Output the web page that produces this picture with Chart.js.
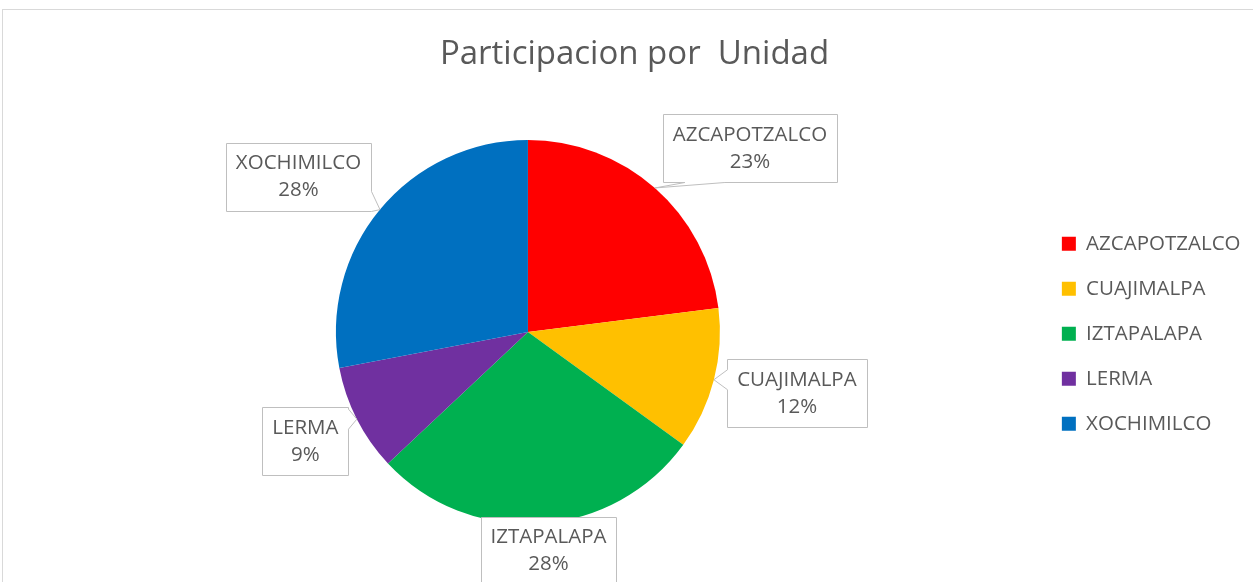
<!DOCTYPE html>
<html><head><meta charset="utf-8">
<script src="https://cdn.jsdelivr.net/npm/chart.js@4"></script>
<style>html,body{margin:0;padding:0;background:#fff;overflow:hidden}</style>
</head><body><canvas id="c" width="1253" height="582" style="display:block;width:1253px;height:582px"></canvas>
<script>
const categories = ['AZCAPOTZALCO','CUAJIMALPA','IZTAPALAPA','LERMA','XOCHIMILCO'];
const values = [23, 12, 28, 9, 28];
const colors = ['#FF0000','#FFC000','#00B050','#7030A0','#0070C0'];
const titleText = 'Participacion por  Unidad';
// label box centre offsets, relative to the slice's outer mid point
const labelOffsets = [[95,-40],[83,13],[8.5,27],[-51.5,21.5],[-81.5,-33]];

const FONT = "'Open Sans', 'Noto Sans', sans-serif";
const TEXT = '#595959';
const LABEL_SIZE = 20.5;

const framePlugin = {
  id: 'frame',
  beforeDraw(chart) {
    const ctx = chart.ctx;
    ctx.save();
    ctx.fillStyle = '#fff';
    ctx.fillRect(0, 0, chart.width, chart.height);
    ctx.strokeStyle = '#d9d9d9';
    ctx.lineWidth = 1;
    ctx.strokeRect(2.5, 9.5, chart.width + 20, chart.height + 20);
    ctx.restore();
  }
};

const calloutPlugin = {
  id: 'callouts',
  afterDatasetsDraw(chart) {
    const ctx = chart.ctx;
    const meta = chart.getDatasetMeta(0);
    const total = values.reduce((a, b) => a + b, 0);
    ctx.save();
    ctx.font = `${LABEL_SIZE}px ${FONT}`;
    meta.data.forEach((arc, i) => {
      const p = arc.getProps(['x','y','startAngle','endAngle','outerRadius'], true);
      const mid = (p.startAngle + p.endAngle) / 2;
      const tx = p.x + Math.cos(mid) * p.outerRadius;
      const ty = p.y + Math.sin(mid) * p.outerRadius;
      const pct = Math.round(values[i] / total * 100) + '%';
      const w = Math.max(ctx.measureText(categories[i]).width, ctx.measureText(pct).width) + 20;
      const h = 68;
      const cx = tx + labelOffsets[i][0], cy = ty + labelOffsets[i][1];
      const L = Math.round(cx - w / 2) + 0.5, R = Math.round(cx + w / 2) + 0.5;
      const T = Math.round(cy - h / 2) + 0.5, B = Math.round(cy + h / 2) + 0.5;
      const dx = tx - cx, dy = ty - cy;
      const inside = Math.abs(dx) <= w / 2 && Math.abs(dy) <= h / 2;
      let side = null;
      if (!inside) {
        side = Math.abs(dx) / (w / 2) > Math.abs(dy) / (h / 2) ? (dx > 0 ? 'right' : 'left') : (dy > 0 ? 'bottom' : 'top');
      }
      const clamp = (v, a, b) => Math.max(a, Math.min(b, v));
      ctx.beginPath();
      ctx.moveTo(L, T);
      if (side === 'top') { const c = clamp(tx, L + 20, R - 20); ctx.lineTo(c - 20, T); ctx.lineTo(tx, ty); ctx.lineTo(c + 20, T); }
      ctx.lineTo(R, T);
      if (side === 'right') { const c = clamp(ty, T + 10, B - 10); ctx.lineTo(R, c - 10); ctx.lineTo(tx, ty); ctx.lineTo(R, c + 10); }
      ctx.lineTo(R, B);
      if (side === 'bottom') { const c = clamp(tx + 50, L + 20, R - 20); ctx.lineTo(c + 20, B); ctx.lineTo(tx, ty); ctx.lineTo(c - 20, B); }
      ctx.lineTo(L, B);
      if (side === 'left') { const c = clamp(ty, T + 10, B - 10); ctx.lineTo(L, c + 10); ctx.lineTo(tx, ty); ctx.lineTo(L, c - 10); }
      ctx.closePath();
      ctx.fillStyle = '#fff';
      ctx.fill();
      ctx.strokeStyle = '#bfbfbf';
      ctx.lineWidth = 1;
      ctx.stroke();
      ctx.fillStyle = TEXT;
      ctx.textAlign = 'center';
      ctx.textBaseline = 'middle';
      ctx.fillText(categories[i], cx, cy - 13);
      ctx.fillText(pct, cx, cy + 14);
    });
    ctx.restore();
  }
};

new Chart(document.getElementById('c'), {
  type: 'pie',
  data: {
    labels: categories,
    datasets: [{ data: values, backgroundColor: colors, borderWidth: 0 }]
  },
  options: {
    responsive: false,
    animation: false,
    layout: { padding: { top: 0, bottom: 58, left: 18.5, right: 2.5 } },
    plugins: {
      title: {
        display: true, text: titleText, color: TEXT,
        font: { family: FONT, size: 33, weight: 'normal', lineHeight: 1.2 },
        padding: { top: 35, bottom: 65.4 }
      },
      legend: {
        position: 'right',
        align: 'start',
        title: { display: true, text: '', font: { size: 1, lineHeight: 1 }, padding: { top: 208, bottom: 0 } },
        labels: {
          color: TEXT, boxWidth: 14, boxHeight: 14, padding: 24.5,
          font: { family: FONT, size: LABEL_SIZE }
        }
      },
      tooltip: { enabled: false }
    }
  },
  plugins: [framePlugin, calloutPlugin]
});
</script>
</body></html>
